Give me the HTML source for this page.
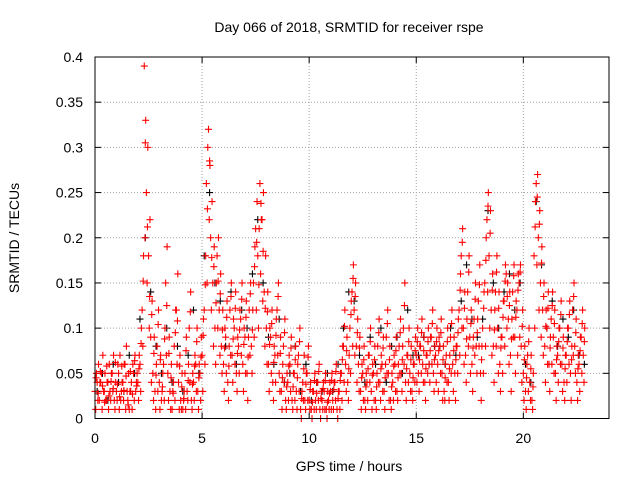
<!DOCTYPE html>
<html><head><meta charset="utf-8"><style>
html,body{margin:0;padding:0;background:#fff;}
svg{display:block;font-family:"Liberation Sans",sans-serif;}
</style></head><body>
<svg id="chart" width="640" height="480" viewBox="0 0 640 480">
<rect x="0" y="0" width="640" height="480" fill="#fff"/>
<g id="grid"></g>
<g id="ticks"></g>
<g id="marks"></g>
<rect x="95" y="57" width="514" height="361.5" fill="none" stroke="#000" stroke-width="1"/>
<text x="349" y="32" text-anchor="middle" font-size="14">Day 066 of 2018, SRMTID for receiver rspe</text>
<text x="349" y="471" text-anchor="middle" font-size="14">GPS time / hours</text>
<text transform="translate(19,238) rotate(-90)" text-anchor="middle" font-size="14">SRMTID / TECUs</text>
</svg>
<script>
const xTicks=[0,5,10,15,20];
const yTicks=[0,0.05,0.1,0.15,0.2,0.25,0.3,0.35,0.4];
const yTickLabels=["0","0.05","0.1","0.15","0.2","0.25","0.3","0.35","0.4"];
const redStep=0.1;
const redA=[.03,.04,.02,.05,.03,.02,.04,.03,.05,.02,.03,.05,.02,.04,.06,.03,.01,.04,.05,.03,.04,.06,.12,.39,.25,.18,.09,.05,.03,.08,.04,.02,.06,.15,.05,.03,.01,.08,.12,.04,.02,.01,.05,.03,.10,.02,.04,.06,.03,.05,.07,.12,.26,.32,.20,.15,.10,.18,.12,.08,.06,.09,.04,.12,.07,.10,.05,.08,.11,.06,.09,.05,.12,.08,.15,.21,.18,.26,.22,.14,.10,.06,.09,.04,.07,.12,.05,.03,.08,.02,.04,.06,.02,.05,.03,.07,.01,.04,.02,.05,.02,.01,.03,.02,.04,.01,.02,.03,.01,.02,.03,.02,.04,.01,.03,.05,.08,.06,.04,.10,.14,.12,.08,.06,.03,.05,.02,.04,.07,.03,.05,.02,.08,.04,.06,.03,.09,.05,.02,.04,.06,.03,.08,.05,.10,.04,.07,.05,.03,.06,.07,.05,.08,.06,.04,.07,.06,.09,.05,.07,.06,.08,.05,.03,.07,.04,.09,.06,.05,.08,.12,.18,.10,.07,.14,.09,.06,.11,.08,.13,.05,.10,.15,.22,.18,.12,.08,.14,.10,.06,.09,.13,.16,.11,.07,.14,.09,.12,.15,.08,.05,.03,.07,.04,.02,.18,.26,.20,.15,.12,.08,.10,.06,.11,.09,.05,.07,.10,.06,.04,.07,.10,.05,.12,.08,.04,.06,.09,.07];
const redB=[.01,.02,.04,.01,.03,.02,.01,.02,.03,.01,.02,.01,.03,.02,.01,.02,.03,.01,.02,.04,.02,.03,.08,.20,.15,.10,.04,.02,.01,.03,.01,.03,.02,.07,.02,.01,.03,.02,.06,.01,.01,.02,.01,.02,.04,.01,.02,.03,.01,.02,.03,.06,.15,.22,.12,.08,.06,.10,.07,.05,.03,.05,.02,.07,.04,.06,.03,.05,.07,.03,.05,.02,.07,.05,.09,.12,.10,.16,.13,.08,.06,.03,.05,.02,.04,.07,.03,.01,.04,.01,.02,.03,.01,.02,.01,.03,.00,.02,.01,.02,.01,.00,.01,.01,.02,.00,.01,.01,.00,.01,.01,.01,.02,.00,.01,.02,.04,.03,.02,.05,.08,.07,.04,.03,.01,.02,.01,.02,.04,.01,.02,.01,.04,.02,.03,.01,.05,.02,.01,.02,.03,.02,.05,.03,.06,.02,.04,.03,.02,.04,.04,.03,.05,.04,.02,.05,.04,.06,.03,.04,.03,.05,.02,.02,.04,.02,.05,.03,.02,.05,.07,.10,.06,.04,.08,.05,.03,.07,.05,.08,.02,.05,.08,.14,.10,.07,.04,.08,.05,.03,.05,.08,.10,.06,.03,.09,.05,.07,.09,.04,.02,.01,.03,.02,.01,.10,.17,.12,.09,.07,.04,.06,.03,.06,.05,.02,.04,.06,.03,.02,.04,.06,.02,.07,.05,.02,.03,.05,.04];
const redC=[.05,.06,.04,.07,.05,.04,.06,.05,.07,.04,.06,.07,.04,.06,.08,.05,.03,.06,.07,.05,.07,.10,.18,.33,.30,.22,.13,.09,.06,.12,.07,.05,.10,.19,.09,.06,.04,.12,.16,.07,.05,.03,.09,.06,.14,.05,.07,.10,.06,.09,.11,.18,.30,.28,.24,.19,.15,.20,.16,.12,.10,.13,.08,.15,.11,.14,.09,.12,.15,.10,.13,.09,.15,.12,.19,.24,.21,.22,.25,.18,.14,.10,.12,.08,.11,.15,.09,.06,.11,.05,.07,.09,.05,.08,.06,.10,.03,.07,.05,.08,.04,.03,.05,.04,.06,.03,.04,.05,.03,.04,.05,.04,.06,.03,.05,.08,.12,.09,.07,.13,.17,.15,.11,.09,.06,.08,.05,.07,.10,.06,.08,.05,.11,.07,.09,.06,.12,.08,.05,.07,.09,.06,.11,.08,.15,.07,.10,.08,.06,.09,.10,.08,.11,.09,.07,.10,.09,.12,.08,.10,.09,.11,.08,.06,.10,.07,.12,.09,.08,.11,.16,.21,.14,.11,.18,.12,.09,.15,.11,.17,.08,.14,.20,.25,.23,.16,.12,.18,.14,.09,.13,.17,.15,.14,.11,.17,.13,.16,.17,.12,.08,.06,.10,.07,.05,.24,.27,.23,.19,.15,.12,.14,.09,.14,.12,.08,.10,.13,.09,.07,.10,.13,.08,.15,.11,.07,.09,.12,.10];
const redD=[.045,.028,.052,.036,.018,.058,.025,.041,.033,.062,.038,.024,.058,.031,.047,.015,.052,.027,.064,.036,.055,.083,.152,.305,.212,.135,.115,.072,.048,.104,.065,.035,.088,.125,.072,.045,.028,.095,.108,.058,.035,.022,.075,.042,.118,.038,.058,.085,.045,.068,.092,.148,.232,.285,.178,.168,.128,.152,.138,.098,.078,.112,.058,.135,.088,.122,.072,.098,.132,.082,.112,.068,.138,.098,.168,.195,.148,.238,.185,.122,.118,.082,.105,.062,.092,.135,.072,.045,.095,.035,.058,.078,.035,.065,.045,.085,.022,.055,.038,.068,.032,.018,.042,.028,.052,.022,.033,.042,.018,.028,.042,.032,.052,.022,.042,.065,.102,.075,.055,.115,.155,.135,.095,.078,.045,.065,.035,.055,.085,.048,.065,.035,.095,.055,.078,.045,.105,.065,.035,.058,.075,.045,.095,.065,.125,.055,.085,.065,.045,.075,.085,.065,.095,.075,.055,.085,.075,.105,.065,.085,.075,.095,.065,.045,.085,.055,.105,.075,.065,.095,.142,.195,.122,.088,.162,.105,.078,.132,.095,.148,.065,.122,.175,.235,.205,.142,.098,.162,.122,.078,.112,.152,.135,.125,.088,.158,.112,.142,.162,.102,.065,.045,.085,.055,.035,.212,.245,.215,.172,.135,.102,.122,.078,.125,.105,.065,.085,.115,.078,.055,.085,.115,.065,.135,.095,.055,.075,.105,.085];
const blackStep=0.25;
const blackVals=[.03,.05,.02,.06,.04,.03,.07,.05,.11,.20,.14,.08,.05,.10,.04,.08,.03,.07,.12,.05,.18,.25,.15,.13,.08,.14,.06,.12,.10,.16,.22,.15,.09,.06,.11,.04,.05,.08,.03,.06,.02,.04,.03,.05,.03,.06,.10,.14,.13,.07,.04,.09,.06,.10,.04,.08,.09,.05,.12,.07,.07,.09,.06,.08,.08,.06,.10,.07,.13,.17,.11,.09,.11,.23,.15,.10,.14,.16,.12,.15,.06,.04,.24,.17,.10,.13,.08,.11,.09,.12,.07,.06];

const X0=95,X1=609,Y0=418.5,Y1=57,XMAX=24,YMAX=0.4;
function xs(t){return X0+(X1-X0)*t/XMAX;}
function ys(v){return Y0-(Y0-Y1)*v/YMAX;}
const NS="http://www.w3.org/2000/svg";
const grid=document.getElementById('grid'),ticks=document.getElementById('ticks'),marks=document.getElementById('marks');
function mk(tag,attrs,parent){const e=document.createElementNS(NS,tag);for(const k in attrs)e.setAttribute(k,attrs[k]);parent.appendChild(e);return e;}
xTicks.forEach(function(t){
  const x=xs(t);
  if(t>0){const g=mk('line',{x1:x,y1:Y1,x2:x,y2:Y0,stroke:'#a0a0a0','stroke-dasharray':'1,2','stroke-width':1},grid);
  
  }
  mk('line',{x1:x,y1:Y0,x2:x,y2:Y0-6,stroke:'#000'},ticks);
  mk('line',{x1:x,y1:Y1,x2:x,y2:Y1+6,stroke:'#000'},ticks);
  const l=mk('text',{x:x,y:443,'text-anchor':'middle','font-size':14},ticks);
  l.textContent=String(t);
  
  
});
yTicks.forEach(function(v,i){
  const y=ys(v);
  if(v>0&&v<YMAX){const g=mk('line',{x1:X0,y1:y,x2:X1,y2:y,stroke:'#a0a0a0','stroke-dasharray':'1,2','stroke-width':1},grid);
  
  }
  mk('line',{x1:X0,y1:y,x2:X0+6,y2:y,stroke:'#000'},ticks);
  mk('line',{x1:X1,y1:y,x2:X1-6,y2:y,stroke:'#000'},ticks);
  const l=mk('text',{x:83,y:y+5,'text-anchor':'end','font-size':14},ticks);
  l.textContent=yTickLabels[i];
  
  
});
function plus(t,v,color,name){
  const x=xs(t),y=ys(v);
  const p=mk('path',{d:'M'+(x-3.5)+' '+y+'H'+(x+3.5)+'M'+x+' '+(y-3.5)+'V'+(y+3.5),stroke:color,'stroke-width':1.1,fill:'none'},marks);
  
  
}
blackVals.forEach(function(v,i){plus(i*blackStep+0.1,v,'#000','black-point');});
[[redA,0],[redB,0.033],[redD,0.05],[redC,0.066]].forEach(function(s){
  s[0].forEach(function(v,i){plus(i*redStep+s[1],v,'#ff0000','red-point');});
});
</script>
</body></html>
